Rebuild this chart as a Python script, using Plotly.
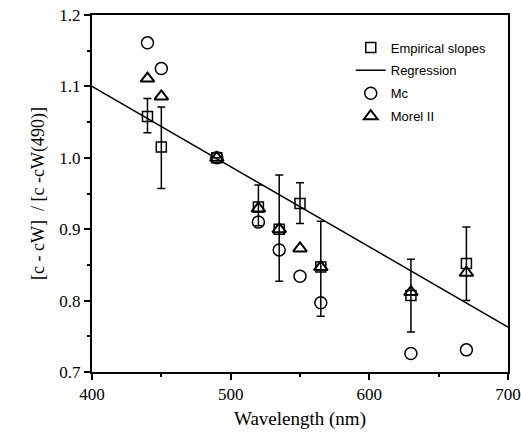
import plotly.graph_objects as go

wavelength = [440, 450, 490, 520, 535, 550, 565, 630, 670]
empirical = [1.058, 1.015, 1.000, 0.931, 0.900, 0.936, 0.847, 0.807, 0.852]
emp_err_plus = [0.025, 0.056, 0.0, 0.031, 0.076, 0.029, 0.064, 0.051, 0.051]
emp_err_minus = [0.023, 0.058, 0.0, 0.026, 0.073, 0.028, 0.069, 0.051, 0.052]
mc = [1.161, 1.125, 1.000, 0.910, 0.871, 0.834, 0.797, 0.726, 0.731]
morel = [1.111, 1.086, 1.000, 0.929, 0.900, 0.873, 0.847, 0.812, 0.839]
reg_x = [400, 700]
reg_y = [1.100, 0.763]

serif = "Liberation Serif, Times New Roman, serif"
sans = "Liberation Sans, Arial, sans-serif"

fig = go.Figure()
fig.add_trace(go.Scatter(
    x=wavelength, y=empirical, mode="markers", name="Empirical slopes", legendgroup="a",
    marker=dict(symbol="square-open", size=10, color="black", line=dict(width=1.5)),
    error_y=dict(type="data", array=emp_err_plus, arrayminus=emp_err_minus,
                 color="black", thickness=1.5, width=4),
))
fig.add_trace(go.Scatter(
    x=reg_x, y=reg_y, mode="lines", name="Regression", legendgroup="b",
    line=dict(color="black", width=1.5),
))
fig.add_trace(go.Scatter(
    x=wavelength, y=mc, mode="markers", name="Mc", legendgroup="c",
    marker=dict(symbol="circle-open", size=12, color="black", line=dict(width=1.5)),
))
fig.add_trace(go.Scatter(
    x=wavelength, y=morel, mode="markers", name="Morel II", legendgroup="d",
    marker=dict(symbol="triangle-up-open", size=12, color="black", line=dict(width=2)),
))

fig.update_layout(
    width=521, height=432,
    margin=dict(l=92, r=13, t=15, b=60, autoexpand=False),
    paper_bgcolor="white", plot_bgcolor="white",
    font=dict(family=serif, color="black", size=17),
    showlegend=True,
    legend=dict(x=0.622, y=0.951, xanchor="left", yanchor="top", tracegroupgap=3,
                bgcolor="rgba(0,0,0,0)", font=dict(family=sans, size=13, color="black")),
    xaxis=dict(
        range=[400, 700], tickvals=[400, 500, 600, 700], automargin=False,
        ticks="outside", ticklen=6, tickwidth=1.5, tickcolor="black",
        minor=dict(tickvals=[450, 550, 650], ticks="outside", ticklen=3, tickcolor="black"),
        showline=True, linecolor="black", linewidth=2, mirror=True,
        showgrid=False, zeroline=False,
        tickfont=dict(family=serif, size=17),
        title=dict(text="Wavelength (nm)", font=dict(family=serif, size=19), standoff=8),
    ),
    yaxis=dict(
        range=[0.7, 1.2], tickvals=[0.7, 0.8, 0.9, 1.0, 1.1, 1.2], automargin=False,
        ticktext=["0.7", "0.8", "0.9", "1.0", "1.1", "1.2"],
        ticks="outside", ticklen=6, tickwidth=1.5, tickcolor="black",
        minor=dict(tickvals=[0.75, 0.85, 0.95, 1.05, 1.15], ticks="outside", ticklen=3, tickcolor="black"),
        showline=True, linecolor="black", linewidth=2, mirror=True,
        showgrid=False, zeroline=False,
        tickfont=dict(family=serif, size=17),
        title=dict(text="[c - cW]  / [c -cW(490)]", font=dict(family=serif, size=18), standoff=10),
    ),
)

fig.write_html("out.html")
